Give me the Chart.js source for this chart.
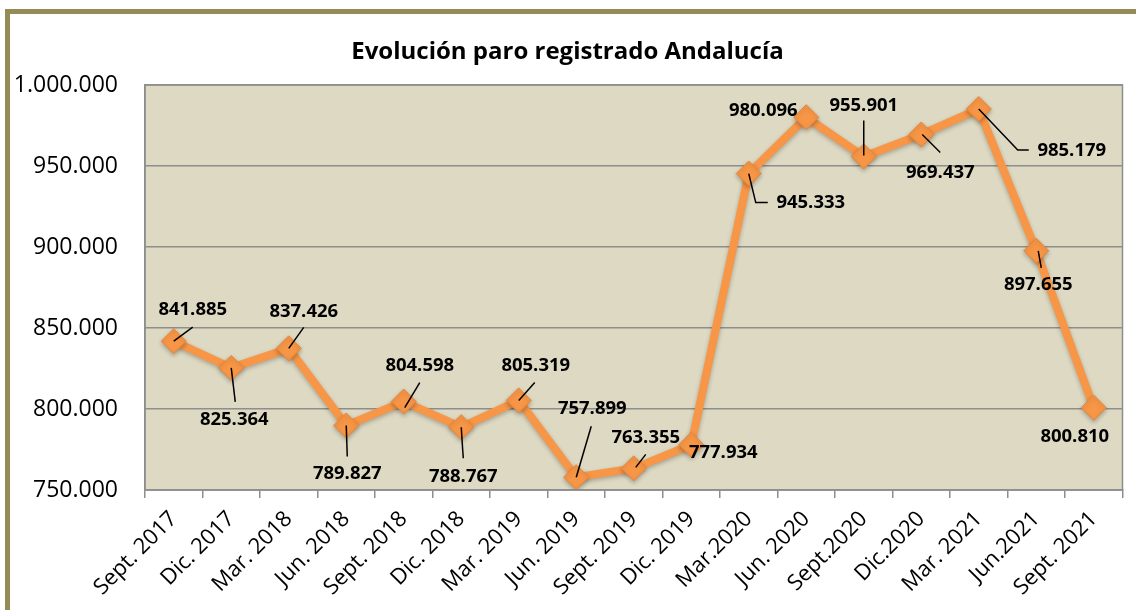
<!DOCTYPE html>
<html>
<head>
<meta charset="utf-8">
<script src="https://cdn.jsdelivr.net/npm/chart.js@4"></script>
<style>
  body { margin: 0; background: #fff; overflow: hidden; }
  #frame { position: absolute; left: 5px; top: 9px; width: 1200px; height: 700px; border: 5px solid #958b57; }
  #chart { position: absolute; left: 0; top: 0; }
</style>
</head>
<body>
<div id="frame"></div>
<canvas id="chart" width="1136" height="610"></canvas>
<script>
// datos
const categories = ['Sept. 2017', 'Dic. 2017', 'Mar. 2018', 'Jun. 2018', 'Sept. 2018', 'Dic. 2018',
  'Mar. 2019', 'Jun. 2019', 'Sept. 2019', 'Dic. 2019', 'Mar.2020', 'Jun. 2020', 'Sept.2020',
  'Dic.2020', 'Mar. 2021', 'Jun.2021', 'Sept. 2021'];
const paro = [841885, 825364, 837426, 789827, 804598, 788767, 805319, 757899, 763355, 777934,
  945333, 980096, 955901, 969437, 985179, 897655, 800810];
const yMin = 750000, yMax = 1000000, yStep = 50000;

// where each value label sits relative to its point, and its leader line
const labelOffsets = [[19,-31],[3,52],[15,-37],[1,48],[16,-36],[2,50],[17,-35],[16,-68],[12,-31],
  [32,8],[62,29],[-43,-7],[0,-51],[19,38],[93,42],[2,34],[-19,29]];
const leaders = [
  [[0,0],[19,-14]], [[0,0],[4,34]], [[0,0],[15,-21]], [[0,0],[1,31]], [[1,6],[16,-19]],
  [[0,0],[2,31]], [[0,0],[16,-18]], [[0,0],[15,-51]], [[2,-1],[12,-14]], null,
  [[0,0],[7,29],[19,29]], null, [[0,-1],[0,-36]], [[1,0],[19,18]], [[0,0],[39,41],[50,41]],
  [[2,0],[5,17]], null
];

function fmt(v) {
  return String(Math.round(v)).replace(/\B(?=(\d{3})+(?!\d))/g, '.');
}

const plotBg = {
  id: 'plotBg',
  beforeDraw(chart) {
    const { ctx, chartArea: a } = chart;
    ctx.save();
    ctx.fillStyle = '#ddd9c3';
    ctx.fillRect(a.left, a.top, a.right - a.left, a.bottom - a.top);
    ctx.restore();
  },
  afterDraw(chart) {
    const { ctx, chartArea: a } = chart;
    ctx.save();
    ctx.strokeStyle = '#8e8e8e';
    ctx.lineWidth = 1.5;
    ctx.strokeRect(a.left, a.top, a.right - a.left, a.bottom - a.top);
    ctx.restore();
  }
};

const valueLabels = {
  id: 'valueLabels',
  afterDatasetsDraw(chart) {
    const ctx = chart.ctx;
    const pts = chart.getDatasetMeta(0).data;
    ctx.save();
    ctx.strokeStyle = '#000';
    ctx.lineWidth = 1.5;
    ctx.fillStyle = '#000';
    ctx.font = 'bold 18.5px "Open Sans"';
    ctx.textAlign = 'center';
    ctx.textBaseline = 'middle';
    pts.forEach((p, i) => {
      const l = leaders[i];
      if (l) {
        ctx.beginPath();
        l.forEach(([dx, dy], k) => {
          if (k === 0) ctx.moveTo(p.x + dx, p.y + dy);
          else ctx.lineTo(p.x + dx, p.y + dy);
        });
        ctx.stroke();
      }
      const [ox, oy] = labelOffsets[i];
      ctx.fillText(fmt(paro[i]), p.x + ox, p.y + oy);
    });
    ctx.restore();
  }
};

const shadow = {
  id: 'shadow',
  beforeDatasetsDraw(chart) {
    const ctx = chart.ctx;
    ctx.save();
    ctx.shadowColor = 'rgba(0,0,0,0.25)';
    ctx.shadowBlur = 4;
    ctx.shadowOffsetY = 2;
  },
  afterDatasetsDraw(chart) {
    chart.ctx.restore();
  }
};

new Chart(document.getElementById('chart'), {
  type: 'line',
  data: {
    labels: categories,
    datasets: [{
      data: paro,
      borderColor: '#f79646',
      borderWidth: 8,
      pointStyle: 'rectRot',
      pointRadius: 12.5,
      pointHoverRadius: 12.5,
      pointBackgroundColor: '#f79646',
      pointBorderColor: '#e8853a',
      pointBorderWidth: 1,
      tension: 0
    }]
  },
  options: {
    responsive: false,
    animation: false,
    layout: { padding: { left: 0, right: 1, top: 0, bottom: 0 } },
    plugins: {
      legend: { display: false },
      tooltip: { enabled: false },
      title: {
        display: true,
        text: 'Evolución paro registrado Andalucía',
        color: '#000',
        font: { family: '"Open Sans"', size: 24, weight: 'bold' },
        padding: { top: 38, bottom: 18.2 }
      }
    },
    scales: {
      x: {
        offset: true,
        grid: { offset: true, drawOnChartArea: false, drawTicks: true, tickLength: 8, color: '#8e8e8e', lineWidth: 1.5 },
        border: { color: '#8e8e8e', width: 1.5 },
        ticks: {
          autoSkip: false, maxRotation: 45, minRotation: 45, padding: 8,
          color: '#000', font: { family: '"Open Sans"', size: 22 }
        },
        afterFit(s) { s.height = 120; }
      },
      y: {
        min: yMin, max: yMax,
        grid: { color: '#8e8e8e', lineWidth: 1.5, drawTicks: false },
        border: { color: '#8e8e8e', width: 1.5 },
        ticks: {
          stepSize: yStep, padding: 27, color: '#000',
          font: { family: '"Open Sans"', size: 23 },
          callback: v => fmt(v)
        },
        afterFit(s) { s.width = 145; }
      }
    }
  },
  plugins: [plotBg, shadow, valueLabels]
});
</script>
</body>
</html>
